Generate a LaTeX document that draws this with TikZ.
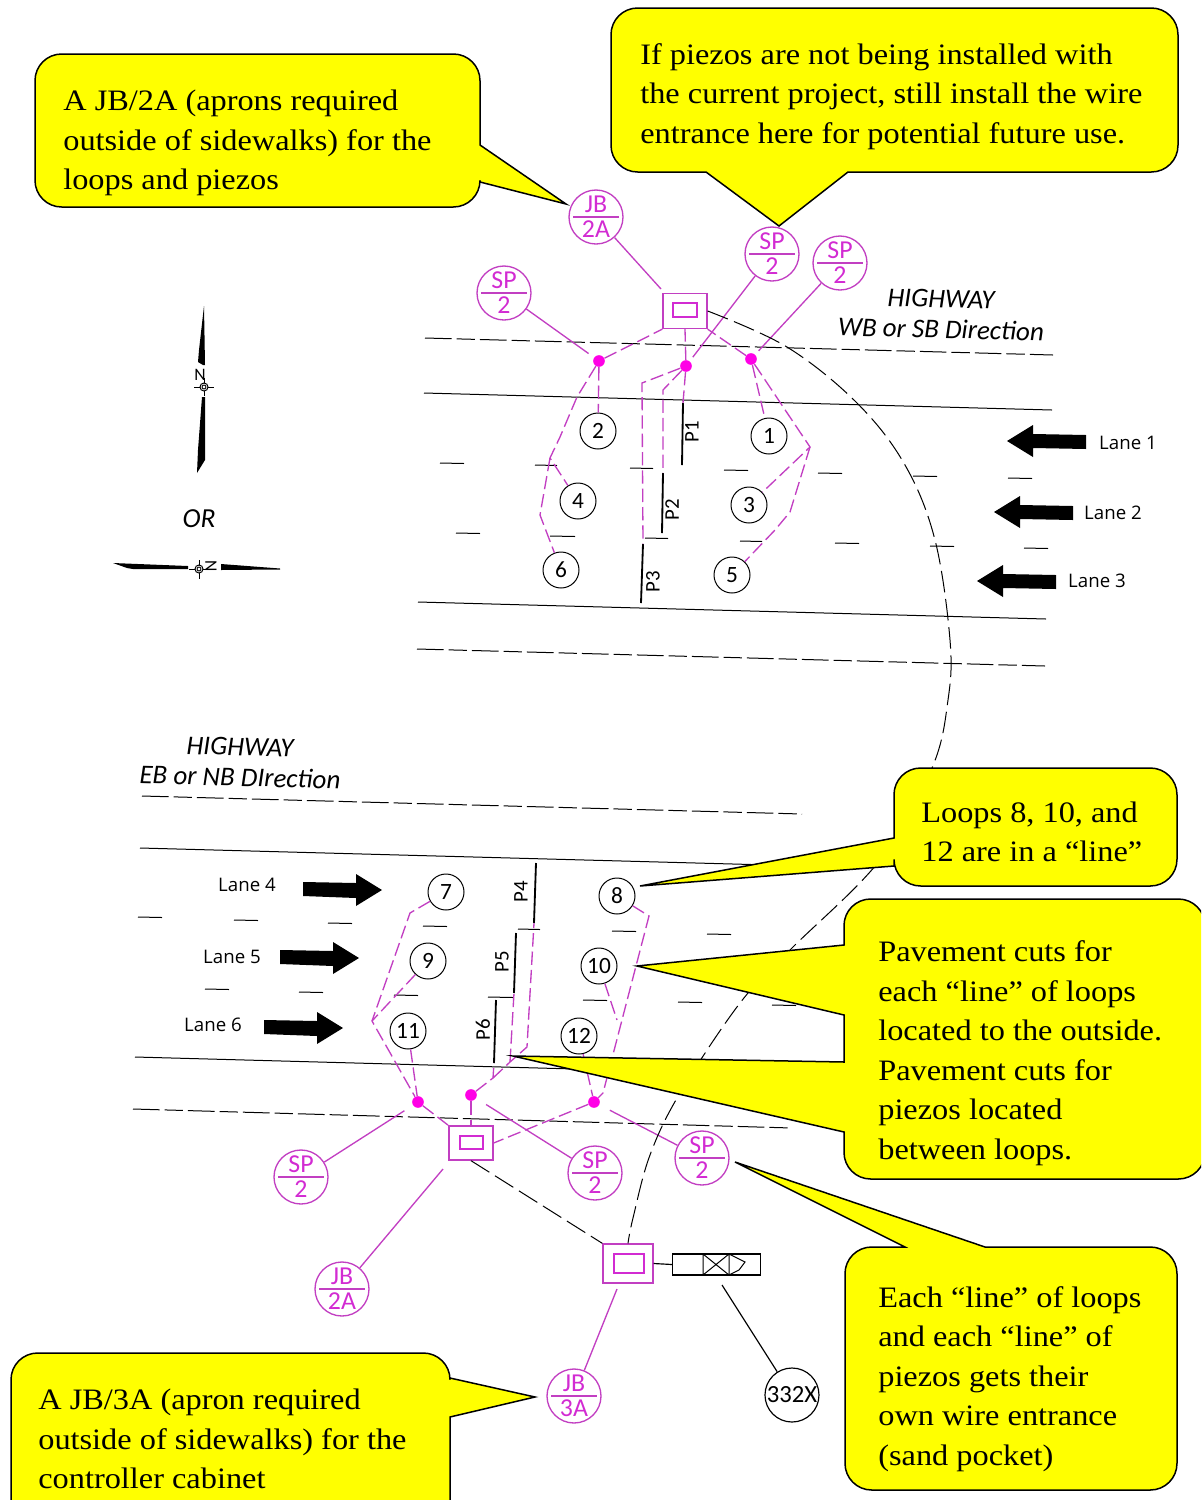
\documentclass[tikz,border=0pt]{standalone}
\usepackage{fontspec}
\setmainfont{Liberation Serif}
\newfontfamily\calloutfont[FakeStretch=1.09]{Liberation Serif}
\newfontfamily\drawfont{Carlito}
\newfontfamily\lanefont{Open Sans}
\definecolor{mag}{HTML}{C23FC2}
\definecolor{magtxt}{HTML}{D22BD2}
\definecolor{dotmag}{HTML}{FF00E6}
\definecolor{callyellow}{HTML}{FFFF00}
\tikzset{
  call/.style={draw=black,line width=0.9pt,fill=callyellow,rounded corners=16pt},
  calltext/.style={anchor=west,align=left,inner sep=0pt,text=black,yshift=-1.8pt,font=\calloutfont\fontsize{17.8}{23.7}\selectfont},
  road/.style={line width=0.6pt,black},
  roaddash/.style={line width=0.6pt,black,dash pattern=on 16pt off 3pt on 11pt off 3pt},
  tick/.style={line width=0.6pt,black},
  conduit/.style={line width=0.6pt,black,dash pattern=on 13pt off 4pt},
  msolid/.style={line width=0.8pt,mag},
  mdash/.style={line width=0.8pt,mag,dash pattern=on 8pt off 3pt},
  symb/.style={circle,draw=mag,line width=0.8pt,minimum size=32.4pt,inner sep=0pt,align=center,text=magtxt,
     font=\drawfont\fontsize{15.5}{15}\selectfont,
     path picture={\draw[mag,line width=0.7pt] ([xshift=2.5pt]path picture bounding box.west) -- ([xshift=-2.5pt]path picture bounding box.east);}},
  num/.style={circle,draw=black,line width=0.6pt,minimum size=21.6pt,inner sep=0pt,font=\drawfont\fontsize{14}{16}\selectfont},
  jbox/.style={rectangle,draw=mag,line width=0.8pt,inner sep=0pt},
  jin/.style={rectangle,draw=magtxt,line width=1.3pt,inner sep=0pt},
  pdot/.style={circle,fill=dotmag,inner sep=0pt,minimum size=7pt},
  piezo/.style={line width=1.1pt,black},
  plabel/.style={rotate=90,font=\drawfont\fontsize{12.5}{14}\selectfont,inner sep=0pt},
  lanelabel/.style={font=\lanefont\fontsize{11.2}{12}\selectfont,inner sep=0pt},
  hwy/.style={font=\drawfont\itshape\fontsize{16.2}{18}\selectfont,inner sep=0pt,rotate=-1.5},
}
\begin{document}
\begin{tikzpicture}[x=0.6pt,y=-0.6pt]
\useasboundingbox (0,0) rectangle (1201,1500);
\clip (0,0) rectangle (1201,1500);

% roads, top
\draw[roaddash] (425,338) -- (1053,355);
\draw[road] (424,393) -- (1052,410);
\draw[road] (418,602) -- (1046,619);
\draw[roaddash] (417,649) -- (1045,666);
\foreach \a/\b/\y in {440/464/463,535/557/465,630/653/468,724/748/470,818/842/473,913/937/476,1008/1032/478,
   456/480/533,550/575/536,645/668/538,740/762/541,835/859/543,930/954/546,1024/1048/548}
  \draw[tick] (\a,\y) -- (\b,\y+0.5);
% roads, bottom
\draw[roaddash] (142,796) -- (802,814);
\draw[road] (140,848) -- (770,865);
\draw[road] (135,1057) -- (795,1075);
\draw[roaddash] (133,1109) -- (792,1128);
\foreach \a/\b/\y in {138/162/917,234/258/920,328/352/923,423/447/926,518/540/929,612/636/931,707/731/934,
   205/229/989,299/323/992,394/418/995,488/513/997,583/607/1000,678/702/1002,772/796/1005}
  \draw[tick] (\a,\y) -- (\b,\y+0.5);

% boxes
\node[jbox,minimum width=26.4pt,minimum height=21pt] (boxT) at (685,311) {};
\node[jin,minimum width=14.4pt,minimum height=8.4pt] (boxTi) at (685,310) {};
\node[jbox,minimum width=26.4pt,minimum height=20.4pt] (boxB) at (471,1143) {};
\node[jin,minimum width=13.8pt,minimum height=7.8pt] (boxBi) at (471.5,1142.5) {};
\node[jbox,minimum width=30pt,minimum height=23.4pt] (cab) at (628,1263.5) {};
\node[jin,minimum width=18pt,minimum height=11.4pt] (cabi) at (629,1263.5) {};

% dots
\node[pdot] (d1) at (599,361) {};
\node[pdot] (d2) at (686,366) {};
\node[pdot] (d3) at (751,359) {};
\node[pdot] (d4) at (418,1102) {};
\node[pdot] (d5) at (471,1095) {};
\node[pdot] (d6) at (594,1102) {};

% symbols
\node[symb] (jbT) at (596,217) {JB\\2A};
\node[symb] (spA) at (772,254) {SP\\2};
\node[symb] (spB) at (840,263) {SP\\2};
\node[symb] (spC) at (504,293) {SP\\2};
\node[symb] (spD) at (301,1177) {SP\\2};
\node[symb] (spE) at (595,1173) {SP\\2};
\node[symb] (spF) at (702,1158) {SP\\2};
\node[symb] (jbB) at (342,1289) {JB\\2A};
\node[symb] (jbC) at (574,1396) {JB\\3A};
\node[circle,draw=black,line width=0.7pt,minimum size=32.4pt,inner sep=0pt,font=\drawfont\fontsize{14.8}{17}\selectfont] (sig) at (792,1395) {332X};

% numbered loops
\node[num] (n1) at (769,436) {1};
\node[num] (n2) at (598,431) {2};
\node[num] (n3) at (749,505) {3};
\node[num] (n4) at (578,501) {4};
\node[num] (n5) at (732,575) {5};
\node[num] (n6) at (561,570) {6};
\node[num] (n7) at (446,892) {7};
\node[num] (n8) at (617,896) {8};
\node[num] (n9) at (428,961) {9};
\node[num] (n10) at (599,966) {10};
\node[num] (n11) at (408,1031) {11};
\node[num] (n12) at (579,1036) {12};

% piezos
\coordinate (p1a) at (683,403); \coordinate (p1b) at (682,465);
\coordinate (p2a) at (663,473); \coordinate (p2b) at (662,533);
\coordinate (p3a) at (643,544); \coordinate (p3b) at (641,603);
\coordinate (p4a) at (536,863); \coordinate (p4b) at (534,923);
\coordinate (p5a) at (516,933); \coordinate (p5b) at (514,993);
\coordinate (p6a) at (496,1000); \coordinate (p6b) at (494,1063);
\draw[piezo] (p1a) -- (p1b);
\draw[piezo] (p2a) -- (p2b);
\draw[piezo] (p3a) -- (p3b);
\draw[piezo] (p4a) -- (p4b);
\draw[piezo] (p5a) -- (p5b);
\draw[piezo] (p6a) -- (p6b);
\node[plabel] (lp1) at (692,432) {P1};
\node[plabel] (lp2) at (672,510) {P2};
\node[plabel] (lp3) at (653,582) {P3};
\node[plabel] (lp4) at (521,892) {P4};
\node[plabel] (lp5) at (502,962) {P5};
\node[plabel] (lp6) at (483,1030) {P6};

% solid magenta leaders
\draw[msolid] (jbT) -- (661,289);
\draw[msolid,shorten >=3pt] (spA) -- (d2);
\draw[msolid,shorten >=3pt] (spB) -- (d3);
\draw[msolid,shorten >=4pt] (spC) -- (d1);
\draw[msolid,shorten >=6pt] (spD) -- (d4);
\draw[msolid,shorten >=7pt] (spE) -- (d5);
\draw[msolid,shorten >=7pt] (spF) -- (d6);
\draw[msolid] (jbB) -- (443,1169);
\draw[msolid] (jbC) -- (617,1289);

% dashed magenta, top
\draw[mdash] (d1) -- (boxT.south west);
\draw[mdash] (d2) -- (boxT.south);
\draw[mdash] (d3) -- (boxT.south east);
\draw[mdash] (d1) -- (n2);
\coordinate (a1) at (550,458); \coordinate (a2) at (540,515);
\draw[mdash] (d1) -- (577,397) -- (560,437) -- (a1) -- (n4);
\draw[mdash] (a1) -- (a2) -- (n6);
\draw[mdash] (d2) -- (p1a);
\draw[mdash] (d2) -- (642,383) -- (p3a);
\draw[mdash] (d2) -- (663,390) -- (p2a);
\draw[mdash] (d3) -- (n1);
\coordinate (a3) at (810,447);
\draw[mdash] (d3) -- (a3) -- (n3);
\draw[mdash] (a3) -- (790,512) -- (775,530) -- (n5);

% dashed magenta, bottom
\coordinate (b1) at (372,1021);
\draw[mdash] (n7) -- (410,913) -- (b1) -- (d4);
\draw[mdash] (n9) -- (b1);
\draw[mdash] (n11) -- (d4);
\draw[mdash] (d4) -- (boxB.north west);
\draw[mdash] (d5) -- (boxB.north);
\coordinate (b2) at (493,1078); \coordinate (b3) at (510,1062);
\draw[mdash] (d5) -- (b2) -- (p6b);
\draw[mdash] (b2) -- (b3) -- (527,1047) -- (p4b);
\draw[mdash] (b3) -- (p5b);
\draw[mdash] (n8) -- (649,916) -- (603,1093) -- (d6);
\draw[mdash] (n10) -- (617,1020);
\draw[mdash] (n12) -- (d6);
\draw[mdash] (d6) -- (boxB.east);

% long conduit
\draw[conduit] plot[smooth,tension=0.6] coordinates {(boxT.east) (787,347) (857,403) (905,465) (935,540) (950,640) (948,700) (932,768) (880,860) (790,950) (740,1003) (680,1093) (650,1155) (633,1218) (cab.north)};
\draw[conduit] (boxB.south) -- (cab.north west);

% signal device
\node[draw=black,line width=0.7pt,minimum width=52.8pt,minimum height=12.6pt,inner sep=0pt] (dev) at (716.5,1264.5) {};
\coordinate (x1) at (703,1254); \coordinate (x2) at (729,1254);
\coordinate (x3) at (703,1275); \coordinate (x4) at (729,1275);
\draw[line width=0.6pt] (x1) -- (x3) (x2) -- (x4) (x1) -- (x4) (x3) -- (x2);
\draw[line width=0.6pt] (x2) -- (745,1262) -- (739,1270) -- (x4);
\draw[line width=0.7pt] (cab.east) -- (dev.west);
\draw[line width=0.7pt] (722,1285) -- (sig);

% lane arrows
\foreach \t/\y/\d in {1007/441/1,994/512/1,977/581/1}{
  \fill[black] (\t,\y) -- (\t+26,\y-16) -- (\t+26,\y-7) -- (\t+79,\y-6) -- (\t+79,\y+8) -- (\t+26,\y+7) -- (\t+26,\y+16) -- cycle;
}
\foreach \t/\y in {382/890,359/958,343/1028}{
  \fill[black] (\t,\y) -- (\t-26,\y+16) -- (\t-26,\y+8) -- (\t-79,\y+6) -- (\t-79,\y-8) -- (\t-26,\y-7) -- (\t-26,\y-16) -- cycle;
}
\node[lanelabel] (l1) at (1128,443) {Lane 1};
\node[lanelabel] (l2) at (1113,513) {Lane 2};
\node[lanelabel] (l3) at (1097,581) {Lane 3};
\node[lanelabel] (l4) at (247,885) {Lane 4};
\node[lanelabel] (l5) at (232,957) {Lane 5};
\node[lanelabel] (l6) at (213,1025) {Lane 6};

% highway labels
\node[hwy] (h1) at (941,299) {HIGHWAY};
\node[hwy] (h2) at (941,329) {WB or SB Direction};
\node[hwy] (h3) at (240,747) {HIGHWAY};
\node[hwy] (h4) at (240,777) {EB or NB DIrection};
\node[font=\drawfont\itshape\fontsize{16.5}{18}\selectfont,inner sep=0pt] (orl) at (199,519) {OR};

% north arrows
\fill[black] (204,306) -- (205,365) -- (203,365) -- (198,362) -- (199,350) -- cycle;
\fill[black] (202,397) -- (205,397) -- (205,460) -- (197,473) -- (198,450) -- cycle;
\draw[line width=0.5pt] (194,387) -- (214,387) (204,378) -- (204,396);
\draw[line width=0.6pt,fill=white] (204,387) circle[radius=4];
\draw[line width=0.5pt] (204,387) circle[radius=2];
\node[font=\drawfont\fontsize{10.5}{12}\selectfont,inner sep=0pt] (nN) at (200,375) {N};
\fill[black] (113,563) -- (188,566) -- (188,569) -- (133,569) -- (127,568) -- cycle;
\fill[black] (221,564) -- (280,568.5) -- (280,569.5) -- (221,570) -- cycle;
\draw[line width=0.5pt] (189,569) -- (209,569) (199,560) -- (199,579);
\draw[line width=0.6pt,fill=white] (199,569) circle[radius=4];
\draw[line width=0.5pt] (199,569) circle[radius=2];
\node[font=\drawfont\fontsize{10.5}{12}\selectfont,inner sep=0pt,rotate=-90] (nZ) at (211,566) {N};

% callouts
\draw[call] (250,54) -- (35,54) -- (35,207) -- (480,207) [sharp corners] -- (480,182) -- (566,204) -- (480,145) [rounded corners=16pt] -- (480,54) -- cycle;
\node[calltext] (t1) at (63,140) {A JB/2A (aprons required\\outside of sidewalks) for the\\loops and piezos};

\draw[call] (900,8) -- (1178,8) -- (1178,172) [sharp corners] -- (848,172) -- (779,226) -- (706,172) [rounded corners=16pt] -- (611,172) -- (611,8) -- cycle;
\node[calltext] (t2) at (640,93.5) {If piezos are not being installed with\\the current project, still install the wire\\entrance here for potential future use.};

\draw[call] (1000,768) -- (894,768) [sharp corners] -- (894,838) -- (640,886) -- (894,866) [rounded corners=16pt] -- (894,886) -- (1177,886) -- (1177,768) -- cycle;
\node[calltext,yshift=1.8pt,font=\calloutfont\fontsize{17.8}{23}\selectfont] (t3) at (921,832) {Loops 8, 10, and\\12 are in a “line”};

\draw[call] (1000,899) -- (844,899) [sharp corners] -- (844,945) -- (637,966) -- (844,1015) -- (844,1062) -- (513,1056) -- (844,1132) [rounded corners=16pt] -- (844,1179) -- (1205,1179) -- (1205,899) -- cycle;
\node[calltext] (t4) at (878,1050) {Pavement cuts for\\each “line” of loops\\located to the outside.\\Pavement cuts for\\piezos located\\between loops.};

\draw[call] (1050,1247) -- (1177,1247) -- (1177,1490) -- (845,1490) -- (845,1247) [sharp corners] -- (905,1247) -- (735,1162) -- (985,1247) [rounded corners=16pt] -- cycle;
\node[calltext] (t5) at (878,1376) {Each “line” of loops\\and each “line” of\\piezos gets their\\own wire entrance\\(sand pocket)};

\draw[call] (200,1353) -- (11,1353) -- (11,1530) -- (450,1530) [sharp corners] -- (450,1417) -- (535,1397) -- (450,1378) [rounded corners=16pt] -- (450,1353) -- cycle;
\node[calltext] (t6) at (38,1436) {A JB/3A (apron required\\outside of sidewalks) for the\\controller cabinet};
\end{tikzpicture}
\end{document}
